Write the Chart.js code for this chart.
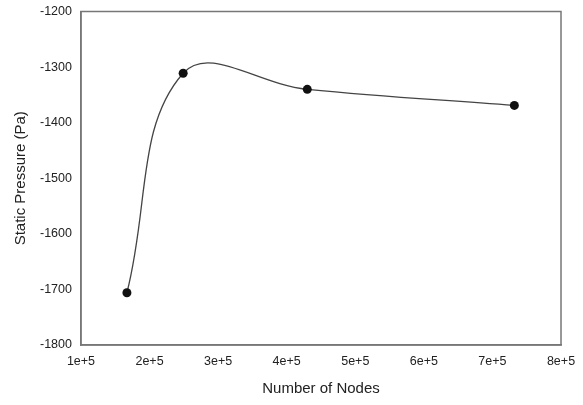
<!DOCTYPE html>
<html>
<head>
<meta charset="utf-8">
<script src="https://cdn.jsdelivr.net/npm/chart.js@4"></script>
<style>
html,body{margin:0;padding:0;background:#fff;}
#wrap{width:583px;height:405px;position:relative;}
</style>
</head>
<body>
<div id="wrap"><canvas id="c" width="583" height="405"></canvas></div>
<script>
const nodes = [167000, 249000, 430000, 732000];
const pressure = [-1706, -1311, -1340, -1369];
const xTicks = [100000, 200000, 300000, 400000, 500000, 600000, 700000, 800000];
const yTicks = [-1800, -1700, -1600, -1500, -1400, -1300, -1200];

const frame = {
  id: 'frame',
  afterDraw(chart) {
    const {ctx, chartArea: a} = chart;
    ctx.save();
    ctx.strokeStyle = '#777';
    ctx.lineWidth = 1.5;
    ctx.strokeRect(a.left, a.top, a.right - a.left, a.bottom - a.top);
    ctx.restore();
  }
};

new Chart(document.getElementById('c'), {
  type: 'scatter',
  data: {
    datasets: [{
      data: nodes.map((x, i) => ({x, y: pressure[i]})),
      showLine: true,
      tension: 0.4,
      borderColor: '#444',
      borderWidth: 1.3,
      pointRadius: 4.5,
      pointBackgroundColor: '#111',
      pointBorderColor: '#111',
      pointBorderWidth: 0
    }]
  },
  options: {
    responsive: false,
    animation: false,
    devicePixelRatio: 1,
    layout: {padding: {left: 8, right: 22, top: 4, bottom: 3}},
    plugins: {legend: {display: false}, tooltip: {enabled: false}},
    scales: {
      x: {
        type: 'linear', min: 100000, max: 800000,
        afterBuildTicks(s) { s.ticks = xTicks.map(v => ({value: v})); },
        grid: {display: false, drawTicks: true, tickLength: 5, color: '#777'},
        border: {display: true, color: '#777', width: 1.5},
        ticks: {
          color: '#222', font: {family: 'Liberation Sans', size: 12.5}, padding: 4,
          maxRotation: 0,
          callback: v => (v / 100000) + 'e+5'
        },
        title: {display: true, text: 'Number of Nodes', color: '#222', font: {family: 'Liberation Sans', size: 15}, padding: {top: 7}}
      },
      y: {
        type: 'linear', min: -1800, max: -1200,
        afterBuildTicks(s) { s.ticks = yTicks.map(v => ({value: v})); },
        grid: {display: false, tickLength: 5, color: '#777'},
        border: {display: true, color: '#777', width: 1.5},
        ticks: {color: '#222', font: {family: 'Liberation Sans', size: 12.5}, padding: 4, callback: v => String(v)},
        title: {display: true, text: 'Static Pressure (Pa)', color: '#222', font: {family: 'Liberation Sans', size: 15}, padding: {bottom: 6}}
      }
    }
  },
  plugins: [frame]
});
</script>
</body>
</html>
